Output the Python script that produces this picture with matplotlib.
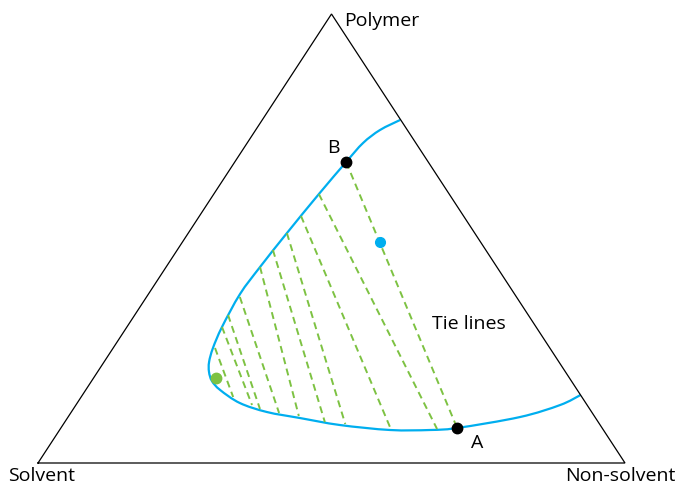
import numpy as np
import matplotlib
matplotlib.use("Agg")
import matplotlib.pyplot as plt
from matplotlib.path import Path
from matplotlib.patches import PathPatch

plt.rcParams['font.family'] = ['Open Sans', 'DejaVu Sans']

# binodal curve, compositions as (polymer, non-solvent) fractions
binodal_polymer = [0.764, 0.7416, 0.7127, 0.670, 0.599, 0.512, 0.4365, 0.3764, 0.3029,
                   0.2561, 0.2249, 0.2027, 0.1826, 0.1626, 0.1336, 0.1136, 0.1002,
                   0.0846, 0.0735, 0.0735, 0.078, 0.1024, 0.1292, 0.1514]
binodal_nonsolvent = [0.235, 0.2118, 0.1974, 0.1897, 0.179, 0.168, 0.160, 0.156, 0.162,
                      0.170, 0.179, 0.190, 0.205, 0.229, 0.277, 0.333, 0.396,
                      0.472, 0.563, 0.631, 0.675, 0.770, 0.825, 0.8485]

# tie lines: polymer-rich end -> polymer-lean end
tie_rich_polymer = [0.2561, 0.3029, 0.3296, 0.3697, 0.4365, 0.4744, 0.512, 0.5501, 0.599, 0.670]
tie_rich_nonsolvent = [0.1735, 0.162, 0.159, 0.159, 0.160, 0.163, 0.168, 0.173, 0.179, 0.190]
tie_lean_polymer = [0.147, 0.1292, 0.1203, 0.1114, 0.1047, 0.0913, 0.0869, 0.0735, 0.0757, 0.078]
tie_lean_nonsolvent = [0.259, 0.300, 0.318, 0.355, 0.392, 0.443, 0.480, 0.565, 0.642, 0.675]

# marked compositions
point_a = (0.078, 0.675)
point_b = (0.670, 0.190)
mixture = (0.4922, 0.3365)
critical = (0.1893, 0.2086)


def to_xy(polymer, nonsolvent):
    p = np.asarray(polymer, dtype=float)
    n = np.asarray(nonsolvent, dtype=float)
    return n + p / 2, p


def smooth_path(x, y):
    # Catmull-Rom through the given points, written as cubic Bezier segments
    pts = np.column_stack([x, y])
    n = len(pts)
    verts = [pts[0]]
    codes = [Path.MOVETO]
    for i in range(n - 1):
        p0 = pts[i - 1] if i > 0 else pts[i]
        p1 = pts[i]
        p2 = pts[i + 1]
        p3 = pts[i + 2] if i + 2 < n else pts[i + 1]
        verts += [p1 + (p2 - p0) / 6, p2 - (p3 - p1) / 6, p2]
        codes += [Path.CURVE4] * 3
    return Path(verts, codes)


fig = plt.figure(figsize=(6.76, 4.86), dpi=100)
ax = fig.add_axes([0, 0, 1, 1])
ax.set_xlim(-38 / 587, 638 / 587)
ax.set_ylim(-23 / 449, 463 / 449)
ax.axis('off')

# triangle frame
tx, ty = to_xy([0, 0, 1, 0], [0, 1, 0, 0])
ax.plot(tx, ty, color='black', lw=0.9, solid_joinstyle='miter')

green = '#7dc242'
blue = '#00aeef'

for rp, rn, lp, ln in zip(tie_rich_polymer, tie_rich_nonsolvent,
                          tie_lean_polymer, tie_lean_nonsolvent):
    x, y = to_xy([rp, lp], [rn, ln])
    ax.plot(x, y, color=green, lw=1.4, linestyle=(0, (3.6, 2.4)))

bx, by = to_xy(binodal_polymer, binodal_nonsolvent)
ax.add_patch(PathPatch(smooth_path(bx, by), fill=False, edgecolor=blue, lw=1.6))

for pt, col, ms in [(point_a, 'black', 7.5), (point_b, 'black', 7.5),
                    (mixture, blue, 7), (critical, green, 7.5)]:
    x, y = to_xy(pt[0], pt[1])
    ax.plot(x, y, 'o', color=col, markersize=ms, zorder=5)

fs = 14
ax.annotate('Polymer', to_xy(1, 0), xytext=(13, -12), textcoords='offset pixels',
            fontsize=fs, ha='left', va='baseline')
ax.annotate('Solvent', to_xy(0, 0), xytext=(4, -18), textcoords='offset pixels',
            fontsize=fs, ha='center', va='baseline')
ax.annotate('Non-solvent', to_xy(0, 1), xytext=(-5, -18), textcoords='offset pixels',
            fontsize=fs, ha='center', va='baseline')
ax.annotate('B', to_xy(*point_b), xytext=(-13, 14), textcoords='offset pixels',
            fontsize=fs, ha='center', va='center')
ax.annotate('A', to_xy(*point_a), xytext=(20, -15), textcoords='offset pixels',
            fontsize=fs, ha='center', va='center')
ax.text((469 - 38) / 587, (463 - 324) / 449, 'Tie lines', fontsize=fs, ha='center', va='center')

fig.savefig('out.png', dpi=100)
